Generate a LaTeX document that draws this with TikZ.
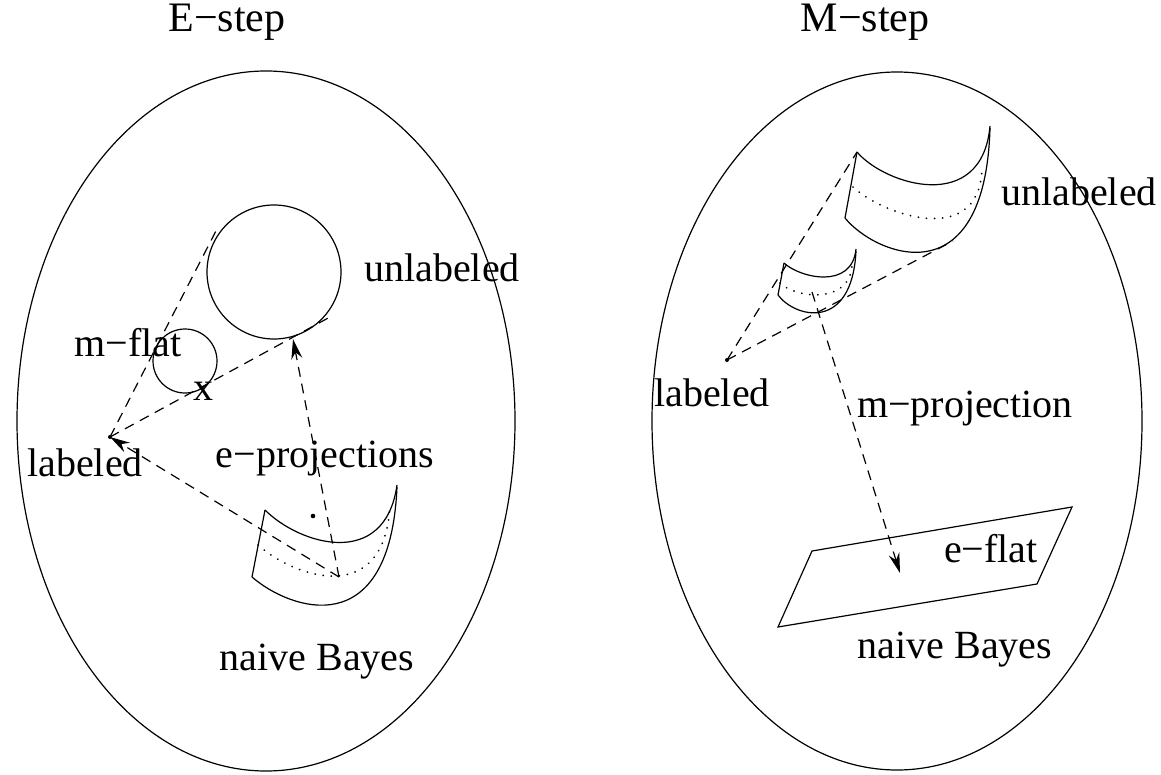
\documentclass[tikz,border=0pt]{standalone}
\usepackage{fontspec}
\setmainfont{Liberation Serif}
\usetikzlibrary{arrows.meta}
\begin{document}
\begin{tikzpicture}[x=1pt,y=-1pt, line width=1.2pt,
 lbl/.style={anchor=base, inner sep=0pt, font=\fontsize{40}{48}\selectfont},
 ttl/.style={anchor=base, inner sep=0pt, font=\fontsize{42}{50}\selectfont},
 dsh/.style={dash pattern=on 10pt off 7pt},
 dts/.style={dash pattern=on 0.1pt off 8pt, line cap=round, line width=1.9pt},
 arr/.style={-{Stealth[length=20pt,width=11pt]}}]
\useasboundingbox (0,0) rectangle (1161,775);
% ellipses
\draw (266,421) ellipse [x radius=249, y radius=350];
\draw (897,421) ellipse [x radius=245, y radius=349];
% titles
\node[ttl] (tE) at (227,32) {E−step};
\node[ttl] (tM) at (865,32) {M−step};
% ---------------- left (E-step)
\draw (274,272) circle [radius=67];
\draw (185,361) circle [radius=32];
\coordinate (labL) at (110,437);
\coordinate (tanA) at (218,227);
\coordinate (tanB) at (330,317);
\coordinate (sL) at (339,577);
\coordinate (bigbot) at (293,339);
\draw[dsh] (labL) -- (tanA);
\draw[dsh] (labL) -- (tanB);
\draw[dsh,arr] (sL) -- (bigbot);
\draw[dsh,arr] (sL) -- (labL);
\fill (labL) circle [radius=2];
\fill (313,516) circle [radius=2.3];
% left surface
\draw (265,510) .. controls (300,545) and (385,570) .. (397,485);
\draw (252,577) .. controls (290,610) and (390,645) .. (397,487);
\draw (265,510) -- (252,577);
\draw[dts] (258,545) .. controls (295,578) and (385,608) .. (390,505);
% left labels
\node[lbl] (unlL) at (442,282) {unlabeled};
\node[lbl] (mflat) at (128,356) {m−flat};
\node[lbl] (xL) at (203,400) {x};
\node[lbl] (labLt) at (85,476) {labeled};
\node[lbl] (eproj) at (325,467) {e−projections};
\node[lbl] (nbL) at (317,670) {naive Bayes};
% ---------------- right (M-step)
\coordinate (labR) at (727,360);
\coordinate (bTL) at (857,152);
\coordinate (bBR) at (953,241);
\coordinate (sR) at (812,292);
\coordinate (pT) at (900,573);
\draw[dsh] (labR) -- (bTL);
\draw[dsh] (labR) -- (bBR);
\fill (labR) circle [radius=2];
% big surface
\draw (857,152) .. controls (885,185) and (982,215) .. (990,126);
\draw (845,218) .. controls (875,255) and (985,300) .. (990,128);
\draw (857,152) -- (845,218);
\draw[dts] (853,187) .. controls (880,213) and (978,250) .. (982,170);
% small surface
\draw (784,263) .. controls (800,278) and (852,290) .. (856,249);
\draw (778,295) .. controls (795,318) and (852,332) .. (856,251);
\draw (784,263) -- (778,295);
\draw[dts] (780,283) .. controls (795,298) and (850,305) .. (852,265);
\draw[dsh,arr] (sR) -- (pT);
% parallelogram
\draw (812,551) -- (1072,507) -- (1037,584) -- (778,627) -- cycle;
% right labels
\node[lbl] (unlR) at (1079,206) {unlabeled};
\node[lbl] (labRt) at (712,406) {labeled};
\node[lbl] (mproj) at (965,417) {m−projection};
\node[lbl] (eflat) at (991,562) {e−flat};
\node[lbl] (nbR) at (955,658) {naive Bayes};
\end{tikzpicture}
\end{document}
